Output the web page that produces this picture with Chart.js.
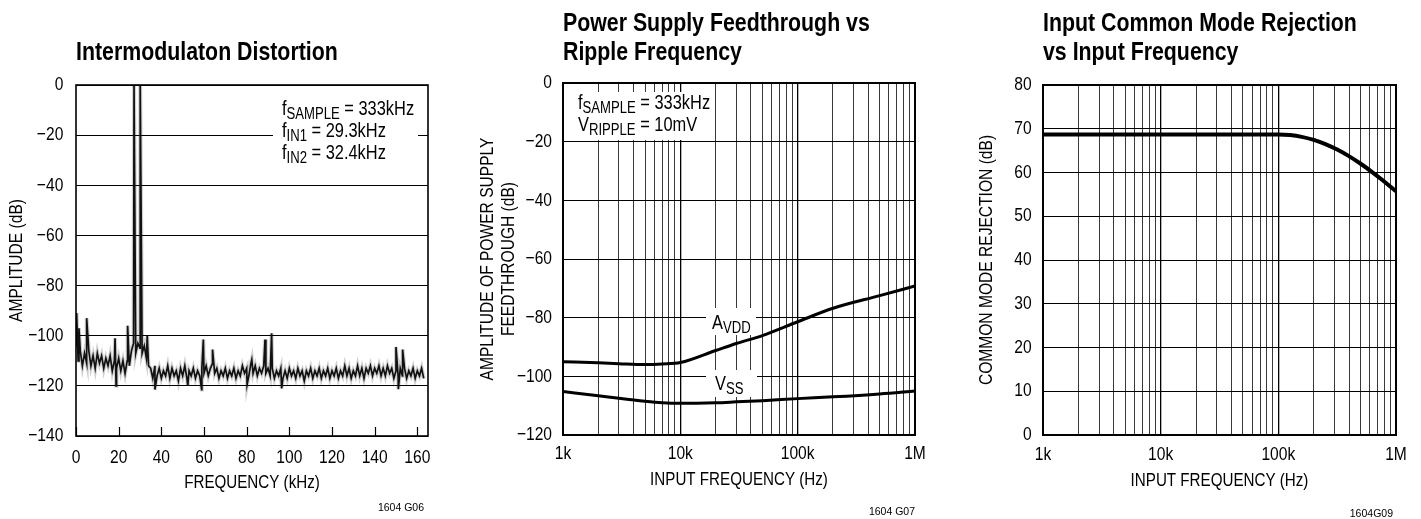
<!DOCTYPE html>
<html>
<head>
<meta charset="utf-8">
<script src="https://cdn.jsdelivr.net/npm/chart.js@4"></script>
<style>
body{margin:0;background:#fff;width:1421px;height:519px;position:relative;overflow:hidden;font-family:"Liberation Sans",Arial,sans-serif;color:#000}
canvas{position:absolute;top:0}
.narrow{display:inline-block;transform:scaleX(0.82);transform-origin:0 0;white-space:nowrap}
.title{position:absolute;font-weight:bold;font-size:26px;line-height:28.5px}
.note{position:absolute;background:#fff;font-size:20px;line-height:21px;box-sizing:border-box}
.note .s{font-size:16px;position:relative;top:4px}
.code{position:absolute;font-size:10.5px;line-height:12px;white-space:nowrap}
</style>
</head>
<body>
<canvas id="imd" width="470" height="519" style="left:0"></canvas>
<canvas id="psf" width="478" height="519" style="left:472px"></canvas>
<canvas id="cmr" width="471" height="519" style="left:950px"></canvas>

<div class="title" style="left:76px;top:37px"><span class="narrow">Intermodulaton Distortion</span></div>
<div class="title" style="left:563px;top:8px"><span class="narrow">Power Supply Feedthrough vs<br>Ripple Frequency</span></div>
<div class="title" style="left:1043px;top:8px"><span class="narrow">Input Common Mode Rejection<br>vs Input Frequency</span></div>

<div class="note" style="left:273px;top:92px;width:145px;height:68px;padding:5.5px 0 0 8.7px"><span class="narrow">f<span class="s">SAMPLE</span> = 333kHz<br>f<span class="s">IN1</span> = 29.3kHz<br>f<span class="s">IN2</span> = 32.4kHz</span></div>
<div class="note" style="left:564.5px;top:91.5px;width:148px;height:48px;padding:0 0 0 13.5px;line-height:20px"><span class="narrow">f<span class="s">SAMPLE</span> = 333kHz<br>V<span class="s">RIPPLE</span> = 10mV</span></div>
<div class="note" style="left:706px;top:308px;width:50px;height:27px;padding:3.5px 0 0 5.7px;line-height:20px"><span class="narrow">A<span class="s">VDD</span></span></div>
<div class="note" style="left:706px;top:370px;width:51px;height:27px;padding:3px 0 0 9px;line-height:20px"><span class="narrow">V<span class="s">SS</span></span></div>

<div class="code" style="right:997px;top:501px">1604 G06</div>
<div class="code" style="right:506px;top:505px">1604 G07</div>
<div class="code" style="right:28px;top:507px">1604G09</div>

<script>
// Intermodulation spectrum: noise floor sampled every 1 kHz (index = kHz)
const imdNoise = [
  -104,-110,-106,-112,-107,-111,-106,-112,-108,-113,
  -107,-111,-108,-113,-109,-112,-108,-114,-110,-113,
  -109,-114,-110,-115,-110,-112,-106,-103,-107,-103,
  -105,-107,-104,-109,-112,-113,-117,-112,-116,-113,
  -117,-114,-116,-112,-117,-113,-116,-114,-118,-113,
  -116,-112,-117,-114,-116,-113,-117,-114,-116,-113,
  -115,-112,-116,-113,-111,-115,-113,-117,-114,-116,
  -113,-117,-114,-116,-113,-117,-114,-116,-112,-115,
  -113,-116,-111,-115,-112,-116,-113,-115,-112,-115,
  -113,-116,-113,-117,-114,-116,-113,-117,-114,-117,
  -113,-116,-114,-117,-113,-116,-114,-118,-114,-116,
  -113,-117,-114,-116,-113,-117,-114,-116,-113,-117,
  -114,-116,-113,-117,-114,-116,-112,-116,-113,-117,
  -114,-116,-112,-116,-113,-117,-113,-115,-112,-116,
  -113,-115,-112,-116,-113,-116,-112,-115,-113,-117,
  -114,-116,-113,-116,-113,-117,-114,-116,-113,-117,
  -114,-116,-113,-117
];
// tones and spurs (kHz, dB)
const imdSpikeFreq = [0.3, 1.4, 5, 18.3, 18.8, 24.2, 27.2, 30.1, 33.4, 37, 52.4, 58.9, 59.7, 64, 80.2, 82.4, 88.6, 91.7, 96.4, 150, 151.1, 153.1];
const imdSpikeAmp  = [-91, -97, -93, -101, -120, -96, 0, 0, -100, -121.5, -120, -121.5, -101.5, -105.5, -119.5, -109.5, -101.5, -99, -121, -104.5, -121.3, -105.5];
const imdTicks = [0, 20, 40, 60, 80, 100, 120, 140, 160];

// Power supply feedthrough
const psfFreq = [1000, 2000, 3000, 5000, 7000, 10000, 20000, 30000, 50000, 100000, 200000, 500000, 1000000];
const psfAvdd = [-95, -95.4, -95.7, -96, -95.8, -95.3, -91.2, -88.8, -86.1, -81.4, -76.8, -72.5, -69.2];
const psfVss  = [-105.2, -106.6, -107.5, -108.5, -109, -109.2, -109, -108.7, -108.3, -107.6, -107, -106, -105];

// Common mode rejection
const cmrFreq = [1000, 3000, 10000, 30000, 100000, 126000, 158000, 200000, 251000, 316000, 398000, 501000, 631000, 794000, 1000000];
const cmrDb   = [68.7, 68.7, 68.7, 68.7, 68.7, 68.55, 68.15, 67.45, 66.5, 65.25, 63.75, 62.0, 60.05, 57.95, 55.7];

const freqGrid = [1000,2000,3000,4000,5000,6000,7000,8000,9000,
  10000,20000,30000,40000,50000,60000,70000,80000,90000,
  100000,200000,300000,400000,500000,600000,700000,800000,900000,1000000];
const freqLabels = {1000: '1k', 10000: '10k', 100000: '100k', 1000000: '1M'};

// no condensed face installed: squeeze canvas text around its anchor
const SQUEEZE = 0.82;
const baseFillText = CanvasRenderingContext2D.prototype.fillText;
CanvasRenderingContext2D.prototype.fillText = function (t, x, y, w) {
  this.save();
  this.translate(x, 0);
  this.scale(SQUEEZE, 1);
  if (w === undefined) baseFillText.call(this, t, 0, y);
  else baseFillText.call(this, t, 0, y, w / SQUEEZE);
  this.restore();
};

Chart.defaults.font.family = '"Liberation Sans", Arial, sans-serif';
Chart.defaults.color = '#000';

const FONT = {size: 19};
const minus = v => String(v).replace('-', '\u2212');

const frame = {
  id: 'frame',
  afterDraw(chart, args, opts) {
    const {ctx, chartArea: a} = chart;
    ctx.save();
    ctx.strokeStyle = '#000';
    if (opts.innerTicks) {
      const xs = chart.scales.x;
      ctx.lineWidth = 1.2;
      xs.ticks.forEach(t => {
        const px = Math.round(xs.getPixelForValue(t.value)) + 0.5;
        ctx.beginPath();
        ctx.moveTo(px, a.bottom);
        ctx.lineTo(px, a.bottom - opts.innerTicks);
        ctx.stroke();
      });
    }
    ctx.lineWidth = opts.width || 1.6;
    ctx.strokeRect(a.left, a.top, a.right - a.left, a.bottom - a.top);
    ctx.restore();
  }
};

function yAxis(min, max, step, width, tickPad, title, titlePad, lineHeight) {
  return {
    min, max,
    afterFit: s => { s.width = width; },
    ticks: {stepSize: step, padding: tickPad, font: FONT, callback: minus},
    grid: {drawTicks: false, color: '#000', lineWidth: 1},
    border: {display: false},
    title: {display: true, text: title, font: {size: 19, lineHeight: lineHeight || 1.2}, padding: {top: titlePad, bottom: 0}}
  };
}

function logAxis(tickPad, titlePad) {
  return {
    type: 'logarithmic', min: 1000, max: 1000000,
    afterBuildTicks: s => { s.ticks = freqGrid.map(v => ({value: v})); },
    afterFit: s => { s.height = 60; },
    ticks: {autoSkip: false, maxRotation: 0, padding: tickPad, font: FONT, callback: v => freqLabels[v] || ''},
    grid: {
      drawTicks: false,
      color: c => freqLabels[c.tick.value] ? '#000' : '#3a3a3a',
      lineWidth: c => freqLabels[c.tick.value] ? 1.3 : 1
    },
    border: {display: false},
    title: {display: true, text: 'INPUT FREQUENCY (Hz)', font: {size: 18.5}, padding: {top: 0, bottom: titlePad}}
  };
}

const imdPoints = imdNoise.map((y, i) => ({x: i, y}))
  .concat(imdSpikeFreq.map((x, i) => ({x, y: imdSpikeAmp[i]})))
  .sort((a, b) => a.x - b.x);

new Chart(document.getElementById('imd'), {
  type: 'line',
  data: {datasets: [
    {data: imdPoints, borderColor: '#111', borderWidth: 1.7, pointRadius: 0, tension: 0},
    {data: imdPoints, borderColor: 'rgba(0,0,0,0.18)', borderWidth: 4, pointRadius: 0, tension: 0}
  ]},
  options: {
    responsive: false, animation: false,
    layout: {padding: {left: 0, top: 85, right: 42, bottom: 23}},
    plugins: {legend: {display: false}, tooltip: {enabled: false}, frame: {innerTicks: 9}},
    scales: {
      x: {
        type: 'linear', min: 0, max: 165,
        afterBuildTicks: s => { s.ticks = imdTicks.map(v => ({value: v})); },
        afterFit: s => { s.height = 60; },
        ticks: {autoSkip: false, maxRotation: 0, padding: 10, font: FONT},
        grid: {display: false, drawTicks: false},
        border: {display: false},
        title: {display: true, text: 'FREQUENCY (kHz)', font: {size: 18.5}, padding: {top: 0, bottom: 1.6}}
      },
      y: yAxis(-140, 0, 20, 76, 12.7, 'AMPLITUDE (dB)', 5.6)
    }
  },
  plugins: [frame]
});

new Chart(document.getElementById('psf'), {
  type: 'line',
  data: {
    labels: psfFreq,
    datasets: [
      {data: psfAvdd, borderColor: '#000', borderWidth: 3, pointRadius: 0, cubicInterpolationMode: 'monotone'},
      {data: psfVss, borderColor: '#000', borderWidth: 3, pointRadius: 0, cubicInterpolationMode: 'monotone'}
    ]
  },
  options: {
    responsive: false, animation: false,
    layout: {padding: {left: 0, top: 83, right: 35, bottom: 24}},
    plugins: {legend: {display: false}, tooltip: {enabled: false}, frame: {width: 2}},
    scales: {
      x: logAxis(6.9, 4.4),
      y: yAxis(-120, 0, 20, 91, 11, ['AMPLITUDE OF POWER SUPPLY', 'FEEDTHROUGH (dB)'], 5.5, 1.1)
    }
  },
  plugins: [frame]
});

new Chart(document.getElementById('cmr'), {
  type: 'line',
  data: {
    labels: cmrFreq,
    datasets: [{data: cmrDb, borderColor: '#000', borderWidth: 4, pointRadius: 0, cubicInterpolationMode: 'monotone'}]
  },
  options: {
    responsive: false, animation: false,
    layout: {padding: {left: 0, top: 85, right: 25, bottom: 24}},
    plugins: {legend: {display: false}, tooltip: {enabled: false}, frame: {width: 2}},
    scales: {
      x: logAxis(8.4, 3.1),
      y: yAxis(0, 80, 10, 93, 11.3, 'COMMON MODE REJECTION (dB)', 25.3)
    }
  },
  plugins: [frame]
});
</script>
</body>
</html>
